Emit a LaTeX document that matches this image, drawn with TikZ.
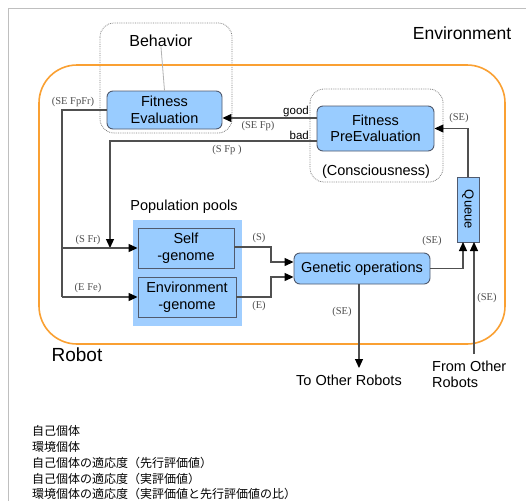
\documentclass[tikz,border=0pt]{standalone}
\usepackage{fontspec}
\setmainfont{Liberation Sans}
\newfontfamily\serifl{Liberation Serif}
\newfontfamily\cjk{Noto Sans CJK JP}
\usetikzlibrary{arrows.meta,positioning}
\definecolor{boxblue}{RGB}{153,204,255}
\definecolor{poolblue}{RGB}{160,206,255}
\definecolor{orng}{RGB}{250,160,50}
\definecolor{lne}{RGB}{80,80,80}
\definecolor{bord}{RGB}{80,90,110}
\tikzset{
  rbox/.style={draw=bord,fill=boxblue,rounded corners=6pt,line width=0.9pt,align=center,inner sep=0pt,font=\fontsize{14.5}{16.5}\selectfont},
  sbox/.style={draw=bord,fill=boxblue,line width=0.9pt,align=center,inner sep=0pt,font=\fontsize{14.5}{16.5}\selectfont},
  conn/.style={draw=lne,line width=1.2pt},
  arr/.style={conn,-{Triangle[length=9pt,width=8pt,color=black]}},
  lbl/.style={font=\serifl\fontsize{10.5}{12}\selectfont,text=lne,inner sep=0pt},
  slbl/.style={font=\fontsize{11.5}{13}\selectfont,inner sep=0pt},
  big/.style={font=\fontsize{14.5}{17}\selectfont,inner sep=0pt,align=center},
  dotbox/.style={draw=gray,densely dotted,line width=0.8pt,rounded corners=14pt},
  jp/.style={font=\cjk\fontsize{12}{14}\selectfont,anchor=west,inner sep=0pt}
}
\begin{document}
\begin{tikzpicture}[x=1pt,y=-1pt]
\useasboundingbox (0,0) rectangle (526,501);
\clip (0,0) rectangle (526,501);
\fill[white] (0,0) rectangle (526,501);
% frame
\draw[gray!50,line width=0.8pt] (8,501) -- (8,8) -- (526,8);
% dotted groups
\draw[dotbox] (100,23) rectangle (232,133);
\draw[dotbox] (310,89) rectangle (443,182);
% robot boundary
\draw[orng,line width=1.6pt,rounded corners=38pt] (39,65) rectangle (505,344);
% pools
\fill[poolblue] (133,220) rectangle (242,326);
% nodes
\node[rbox,minimum width=115pt,minimum height=38pt] (FE) at (164.5,110) {Fitness\\Evaluation};
\node[rbox,minimum width=117pt,minimum height=45pt] (PE) at (375.5,128.5) {Fitness\\PreEvaluation};
\node[sbox,minimum width=22pt,minimum height=65pt] (Q) at (468,209.5) {};
\node[rotate=-90,inner sep=0pt,font=\fontsize{13}{15}\selectfont] (Qt) at (Q.center) {Queue};
\node[sbox,minimum width=96pt,minimum height=40pt] (S) at (186,248) {Self\\-genome};
\node[sbox,minimum width=98pt,minimum height=40pt] (E) at (187,297) {Environment\\-genome};
\node[rbox,minimum width=136pt,minimum height=31pt] (GO) at (362,268.5) {Genetic operations};
% texts
\node[font=\fontsize{17.5}{20}\selectfont,inner sep=0pt] (env) at (462,33) {Environment};
\node[font=\fontsize{16}{18}\selectfont,inner sep=0pt] (beh) at (161,41) {Behavior};
\node[font=\fontsize{19}{21}\selectfont,inner sep=0pt] (rob) at (77,355) {Robot};
\node[big] (pp) at (184,207) {Population pools};
\node[big] (cons) at (376,172) {(Consciousness)};
\node[big] (tor) at (349,380) {To Other Robots};
\node[big,align=left,anchor=north west,font=\fontsize{14.5}{16}\selectfont] (fro) at (432,361) {From Other\\Robots};
% behavior link
\draw[gray!60,line width=0.8pt] (beh.south) -- (FE.north);
% connectors
\draw[arr] (Q.north) |- (PE.east);
\coordinate (g1) at (317,118);
\coordinate (g2) at (222,118);
\draw[arr] (PE.west|-g1) -- (FE.east|-g2);
\coordinate (sj) at (110,248);
\coordinate (b1) at (317,141);
\draw[arr] (PE.west|-b1) -| (sj);
\coordinate (L1) at (62,248);
\coordinate (L2) at (62,297);
\draw[conn] (FE.west) -| (L2);
\draw[arr] (L2) -- (E.west);
\draw[arr] (L1) -- (S.west);
\coordinate (s1) at (271,247);
\coordinate (s2) at (271,262);
\coordinate (e1) at (271,297);
\coordinate (e2) at (271,277);
\draw[arr] (S.east|-s1) -- (s1) -- (s2) -- (GO.west|-s2);
\draw[arr] (E.east|-e1) -- (e1) -- (e2) -- (GO.west|-e2);
\coordinate (qa) at (463,242);
\coordinate (qb) at (474,242);
\draw[arr] (GO.east) -| (qa);
\coordinate (fo) at (474,354);
\draw[arr] (fo) -- (qb);
\coordinate (go1) at (359,284);
\coordinate (to) at (359,368);
\draw[arr] (go1) -- (to);
% labels
\node[lbl] (l1) at (459,118) {(SE)};
\node[slbl,anchor=east] (l2) at (309,112) {good};
\node[lbl] (l3) at (258,126) {(SE Fp)};
\node[slbl,anchor=east] (l4) at (309,135) {bad};
\node[lbl] (l5) at (227,150) {(S Fp )};
\node[lbl] (l6) at (73,102) {(SE FpFr)};
\node[lbl] (l7) at (88,240) {(S Fr)};
\node[lbl] (l8) at (88,288) {(E Fe)};
\node[lbl] (l9) at (259,238) {(S)};
\node[lbl] (l10) at (259,306) {(E)};
\node[lbl] (l11) at (432,241) {(SE)};
\node[lbl] (l12) at (487,298) {(SE)};
\node[lbl] (l13) at (342,312) {(SE)};
% japanese
\node[jp] (j1) at (32,431) {自己個体};
\node[jp] (j2) at (32,447) {環境個体};
\node[jp] (j3) at (32,463) {自己個体の適応度（先行評価値）};
\node[jp] (j4) at (32,479) {自己個体の適応度（実評価値）};
\node[jp] (j5) at (32,494) {環境個体の適応度（実評価値と先行評価値の比）};
\end{tikzpicture}
\end{document}
